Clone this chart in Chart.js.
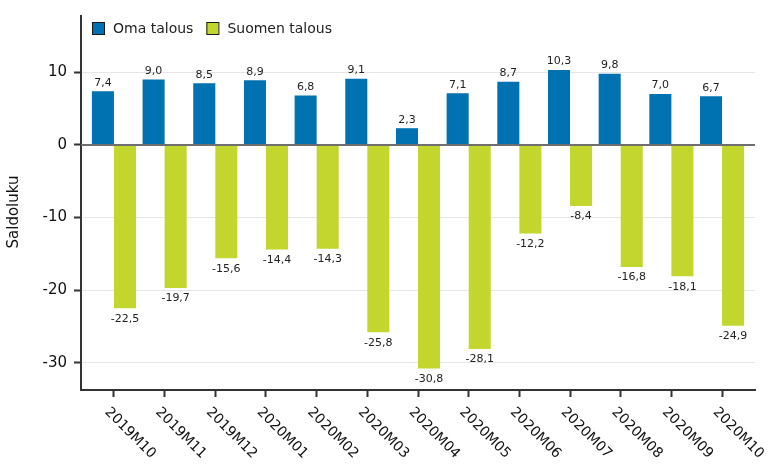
<!DOCTYPE html>
<html>
<head>
<meta charset="utf-8">
<script src="https://cdn.jsdelivr.net/npm/chart.js@4/dist/chart.umd.min.js"></script>
<style>
html,body{margin:0;padding:0;background:#fff;}
#wrap{width:772px;height:466px;}
</style>
</head>
<body>
<div id="wrap"><canvas id="c" width="772" height="466"></canvas></div>
<script>
const categories = ['2019M10','2019M11','2019M12','2020M01','2020M02','2020M03','2020M04','2020M05','2020M06','2020M07','2020M08','2020M09','2020M10'];
const omaTalous = [7.4, 9.0, 8.5, 8.9, 6.8, 9.1, 2.3, 7.1, 8.7, 10.3, 9.8, 7.0, 6.7];
const suomenTalous = [-22.5, -19.7, -15.6, -14.4, -14.3, -25.8, -30.8, -28.1, -12.2, -8.4, -16.8, -18.1, -24.9];
const seriesNames = ['Oma talous', 'Suomen talous'];
const yTickValues = [-30, -20, -10, 0, 10];
const yTitle = 'Saldoluku';

const colors = ['#0071b1', '#c2d62e'];
const FONT = '"DejaVu Sans", sans-serif';

const customPlugin = {
  id: 'custom',
  afterDatasetsDraw(chart) {
    const ctx = chart.ctx;
    const area = chart.chartArea;
    const y = chart.scales.y;
    ctx.save();
    // zero line over bars
    const y0 = y.getPixelForValue(0);
    ctx.strokeStyle = '#6f6f6f';
    ctx.lineWidth = 2;
    ctx.beginPath();
    ctx.moveTo(area.left, y0);
    ctx.lineTo(area.right, y0);
    ctx.stroke();
    // data labels
    ctx.font = '11px ' + FONT;
    ctx.fillStyle = '#222';
    ctx.textAlign = 'center';
    chart.data.datasets.forEach((ds, di) => {
      chart.getDatasetMeta(di).data.forEach((el, i) => {
        const v = ds.data[i].y;
        const t = v.toFixed(1).replace('.', ',');
        if (v >= 0) {
          ctx.textBaseline = 'bottom';
          ctx.fillText(t, el.x, el.y - 3);
        } else {
          ctx.textBaseline = 'top';
          ctx.fillText(t, el.x, el.y + 5);
        }
      });
    });
    ctx.restore();
  },
  afterDraw(chart) {
    const ctx = chart.ctx;
    const x = chart.scales.x;
    ctx.save();
    // rotated category labels
    ctx.font = '14px ' + FONT;
    ctx.fillStyle = '#111';
    ctx.textAlign = 'left';
    ctx.textBaseline = 'middle';
    categories.forEach((c, i) => {
      const px = x.getPixelForValue(i);
      ctx.save();
      ctx.translate(px - 7, 410);
      ctx.rotate(Math.PI / 4);
      ctx.fillText(c, 0, 0);
      ctx.restore();
    });
    // y axis title
    ctx.save();
    ctx.font = '15px ' + FONT;
    ctx.fillStyle = '#111';
    ctx.textAlign = 'center';
    ctx.textBaseline = 'middle';
    ctx.translate(14, 212);
    ctx.rotate(-Math.PI / 2);
    ctx.fillText(yTitle, 0, 0);
    ctx.restore();
    // legend inside plot area
    ctx.font = '14px ' + FONT;
    ctx.textBaseline = 'middle';
    ctx.textAlign = 'left';
    let lx = chart.chartArea.left + 11;
    const ly = 22;
    seriesNames.forEach((name, i) => {
      ctx.fillStyle = colors[i];
      ctx.fillRect(lx, ly, 12, 12);
      ctx.strokeStyle = '#1a1a1a';
      ctx.lineWidth = 1;
      ctx.strokeRect(lx + 0.5, ly + 0.5, 12, 12);
      ctx.fillStyle = '#222';
      ctx.fillText(name, lx + 21, ly + 7);
      lx += 21 + ctx.measureText(name).width + 13;
    });
    ctx.restore();
  }
};

new Chart(document.getElementById('c'), {
  type: 'bar',
  data: {
    datasets: [
      { label: seriesNames[0], data: omaTalous.map((v, i) => ({ x: i, y: v })), backgroundColor: colors[0], borderWidth: 0 },
      { label: seriesNames[1], data: suomenTalous.map((v, i) => ({ x: i, y: v })), backgroundColor: colors[1], borderWidth: 0 }
    ]
  },
  options: {
    responsive: false,
    animation: false,
    devicePixelRatio: 1,
    layout: { padding: { left: 2, right: 17, top: 10, bottom: 0 } },
    datasets: { bar: { barPercentage: 1.0, categoryPercentage: 0.87 } },
    plugins: { legend: { display: false }, tooltip: { enabled: false } },
    scales: {
      x: {
        type: 'linear',
        offset: false,
        min: -0.65,
        max: 12.65,
        afterBuildTicks: (s) => { s.ticks = categories.map((c, i) => ({ value: i })); },
        afterFit: (s) => { s.height = 76; },
        ticks: { display: false },
        grid: { offset: false, drawOnChartArea: false, drawTicks: true, tickLength: 7, tickColor: '#333', tickWidth: 2 },
        border: { display: true, color: '#333', width: 2 }
      },
      y: {
        min: -33.75,
        max: 17.75,
        afterBuildTicks: (s) => { s.ticks = yTickValues.map(v => ({ value: v })); },
        afterFit: (s) => { s.width = 79; },
        ticks: { font: { family: FONT, size: 15 }, color: '#111', padding: 7 },
        grid: {
          color: (c) => (c.tick && c.tick.value === 0) ? 'rgba(0,0,0,0)' : '#e6e6e6',
          lineWidth: 1,
          tickLength: 7,
          tickColor: '#333',
          tickWidth: 2
        },
        border: { display: true, color: '#333', width: 2 },
        title: { display: false }
      }
    }
  },
  plugins: [customPlugin]
});
</script>
</body>
</html>
